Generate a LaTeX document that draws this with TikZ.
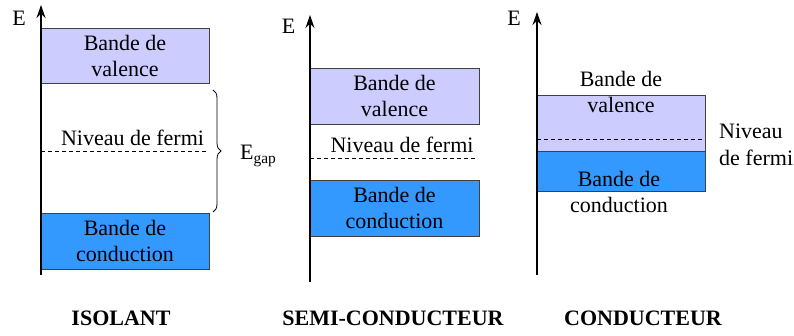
\documentclass[tikz,border=0pt]{standalone}
\usepackage{fontspec}
\setmainfont{Liberation Serif}
\usetikzlibrary{arrows.meta,decorations.pathreplacing}
\begin{document}
\begin{tikzpicture}[x=1pt,y=-1pt,
  every node/.style={font=\fontsize{22}{26}\selectfont, inner sep=0pt},
  axis/.style={line width=1.2pt,-{Stealth[length=13pt,width=9pt]}},
  band/.style={draw=black!75, line width=0.8pt, minimum width=168pt, align=center},
  valband/.style={band, fill={rgb,255:red,204;green,204;blue,255}},
  condband/.style={band, fill={rgb,255:red,51;green,153;blue,255}},
  fermi/.style={dashed, dash pattern=on 4pt off 3pt, line width=0.7pt},
  title/.style={font=\fontsize{22}{26}\selectfont\bfseries, anchor=base},
  lbl/.style={anchor=base}]
\useasboundingbox (0,0) rectangle (794,336);
% ---------- ISOLANT ----------
\node[valband, minimum height=55pt] (v1) at (125,55.5) {Bande de\\valence};
\node[condband, minimum height=56pt] (c1) at (125,241) {Bande de\\conduction};
\coordinate (a1b) at (41,275);
\coordinate (a1t) at (41,5);
\draw[axis] (a1b) -- (a1t);
\node[lbl] (e1) at (19,26) {E};
\coordinate (f1a) at (41,151);
\coordinate (f1b) at (207,151);
\draw[fermi] (f1a) -- (f1b);
\node[lbl] (n1) at (132.5,146) {Niveau de fermi};
\coordinate (b1t) at (213,90);
\coordinate (b1b) at (213,212);
\draw[decorate, decoration={brace, amplitude=8pt}, line width=0.8pt] (b1t) -- (b1b);
\node[lbl, anchor=base west] (eg) at (240,160) {E\textsubscript{gap}};
\node[title] (t1) at (121,325) {ISOLANT};
% ---------- SEMI-CONDUCTEUR ----------
\node[valband, minimum height=56pt, minimum width=169pt] (v2) at (394.5,96) {Bande de\\valence};
\node[condband, minimum height=56pt, minimum width=169pt] (c2) at (394.5,208) {Bande de\\conduction};
\coordinate (a2b) at (310,282);
\coordinate (a2t) at (310,15);
\draw[axis] (a2b) -- (a2t);
\node[lbl] (e2) at (288.5,34) {E};
\coordinate (f2a) at (310,158);
\coordinate (f2b) at (476,158);
\draw[fermi] (f2a) -- (f2b);
\node[lbl] (n2) at (402,153) {Niveau de fermi};
\node[title] (t2) at (393,325) {SEMI-CONDUCTEUR};
% ---------- CONDUCTEUR ----------
\node[valband, minimum height=56pt] (v3) at (621,123) {};
\node[condband, minimum height=40pt] (c3) at (621,171) {};
\coordinate (a3b) at (537,275);
\coordinate (a3t) at (537,12);
\draw[axis] (a3b) -- (a3t);
\node[lbl] (e3) at (514,26) {E};
\coordinate (f3a) at (537,139);
\coordinate (f3b) at (703,139);
\draw[fermi] (f3a) -- (f3b);
\node[lbl] (vt3a) at (621,87) {Bande de};
\node[lbl] (vt3b) at (621,113) {valence};
\node[lbl] (ct3a) at (619,187) {Bande de};
\node[lbl] (ct3b) at (619,213) {conduction};
\node[anchor=base west] (n3a) at (719,139) {Niveau};
\node[anchor=base west] (n3b) at (719,166) {de fermi};
\node[title] (t3) at (643,325) {CONDUCTEUR};
\end{tikzpicture}
\end{document}
